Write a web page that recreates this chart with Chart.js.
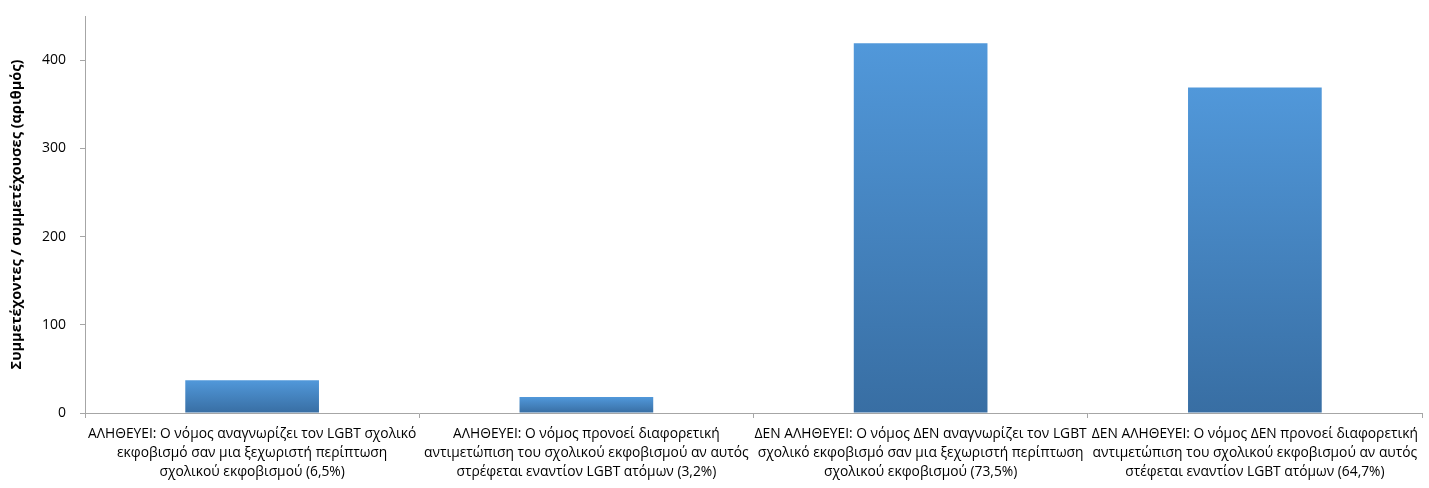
<!DOCTYPE html>
<html><head><meta charset="utf-8">
<script src="https://cdn.jsdelivr.net/npm/chart.js@4"></script>
<style>html,body{margin:0;padding:0;background:#fff}#w{width:1429px;height:488px}</style>
</head><body><div id="w"><canvas id="c" width="1429" height="488"></canvas></div>
<script>
const categories = [
  ["ΑΛΗΘΕΥΕΙ: Ο νόμος αναγνωρίζει τον LGBT σχολικό","εκφοβισμό σαν μια ξεχωριστή περίπτωση","σχολικού εκφοβισμού (6,5%)"],
  ["ΑΛΗΘΕΥΕΙ: Ο νόμος προνοεί διαφορετική","αντιμετώπιση του σχολικού εκφοβισμού αν αυτός","στρέφεται εναντίον LGBT ατόμων (3,2%)"],
  ["ΔΕΝ ΑΛΗΘΕΥΕΙ: Ο νόμος ΔΕΝ αναγνωρίζει τον LGBT","σχολικό εκφοβισμό σαν μια ξεχωριστή περίπτωση","σχολικού εκφοβισμού (73,5%)"],
  ["ΔΕΝ ΑΛΗΘΕΥΕΙ: Ο νόμος ΔΕΝ προνοεί διαφορετική","αντιμετώπιση του σχολικού εκφοβισμού αν αυτός","στέφεται εναντίον LGBT ατόμων (64,7%)"]
];
const values = [37, 18, 419, 369];
const yTicks = [0, 100, 200, 300, 400];
const yTitle = "Συμμετέχοντες / συμμετέχουσες (αριθμός)";

const FONT = "'Open Sans', Lato, sans-serif";
new Chart(document.getElementById('c'), {
  type: 'bar',
  data: { labels: categories, datasets: [{
    data: values,
    backgroundColor: (ctx) => {
      const ch = ctx.chart; const a = ch.chartArea;
      if (!a || ctx.type !== 'data') return '#4a86c5';
      const ys = ch.scales.y;
      const top = ys.getPixelForValue(ctx.raw), bot = ys.getPixelForValue(0);
      const g = ch.ctx.createLinearGradient(0, top, 0, bot);
      g.addColorStop(0, '#5198da');
      g.addColorStop(1, '#386ea3');
      return g;
    },
    borderWidth: 0,
    categoryPercentage: 1,
    barPercentage: 0.4
  }]},
  options: {
    responsive: false, animation: false,
    layout: { padding: { left: 0, right: 7, top: 16, bottom: 0 } },
    plugins: { legend: { display: false }, tooltip: { enabled: false } },
    scales: {
      x: {
        grid: { drawOnChartArea: false, offset: true, tickLength: 5, color: '#a6a6a6' },
        border: { color: '#a6a6a6' },
        ticks: { color: '#000', font: { family: FONT, size: 13.8, lineHeight: 1.35 }, maxRotation: 0, autoSkip: false, padding: 7 },
        afterFit: (s) => { s.height = 75; s.paddingTop = 0; }
      },
      y: {
        min: 0, max: 450,
        afterBuildTicks: (s) => { s.ticks = yTicks.map(v => ({ value: v })); },
        grid: { drawOnChartArea: false, tickLength: 5, color: '#a6a6a6' },
        border: { color: '#a6a6a6' },
        ticks: { color: '#000', font: { family: FONT, size: 14 }, padding: 14 },
        title: { display: true, text: yTitle, color: '#000', font: { family: FONT, size: 14.5, weight: 'bold' }, padding: { top: 8, bottom: 10 } },
        afterFit: (s) => { s.width = 85; s.paddingTop = 0; s.paddingBottom = 0; }
      }
    }
  }
});
</script></body></html>
